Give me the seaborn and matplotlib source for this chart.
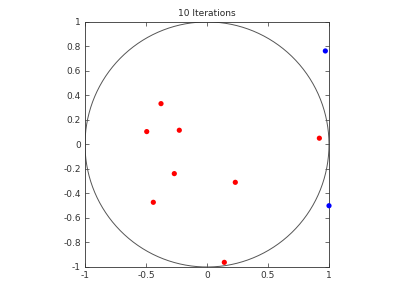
import numpy as np
import pandas as pd
import matplotlib
matplotlib.use("Agg")
import matplotlib.pyplot as plt
import seaborn as sns

sns.set_style("white")
plt.rcParams['font.family'] = ['DejaVu Sans']

title = "10 Iterations"
red_x = [-0.377, -0.494, -0.227, -0.268, 0.232, -0.44, 0.142, 0.921]
red_y = [0.333, 0.105, 0.116, -0.238, -0.309, -0.472, -0.962, 0.051]
blue_x = [0.970, 1.0]
blue_y = [0.763, -0.50]
x_ticks = [-1, -0.5, 0, 0.5, 1]
y_ticks = [-1, -0.8, -0.6, -0.4, -0.2, 0, 0.2, 0.4, 0.6, 0.8, 1]

df = pd.DataFrame({
    "x": red_x + blue_x,
    "y": red_y + blue_y,
    "group": ["inside"] * len(red_x) + ["outside"] * len(blue_x),
})

fig = plt.figure(figsize=(4, 3), dpi=100)
ax = fig.add_axes([0.2125, 0.11, 0.61, 0.817])

theta = np.linspace(0, 2 * np.pi, 400)
circ = pd.DataFrame({"cx": np.cos(theta), "cy": np.sin(theta)})
ax.plot(circ["cx"], circ["cy"], color="#555555", lw=0.7)

sns.scatterplot(data=df, x="x", y="y", hue="group",
                palette={"inside": "#ff0000", "outside": "#0000ff"},
                s=14, edgecolor="none", legend=False, ax=ax, clip_on=False, zorder=3)

ax.set_xlim(-1, 1)
ax.set_ylim(-1, 1)
ax.set_xticks(x_ticks)
ax.set_xticklabels(["-1", "-0.5", "0", "0.5", "1"])
ax.set_yticks(y_ticks)
ax.set_yticklabels(["-1", "-0.8", "-0.6", "-0.4", "-0.2", "0", "0.2", "0.4", "0.6", "0.8", "1"])
ax.set_xlabel("")
ax.set_ylabel("")
ax.set_title(title, fontsize=6.5, pad=4)
ax.tick_params(direction="in", length=3, width=0.5, labelsize=6.5, top=True, right=True,
               bottom=True, left=True, labeltop=False, labelright=False, colors="#333333",
               pad=3)
for sp in ax.spines.values():
    sp.set_visible(True)
    sp.set_linewidth(0.6)
    sp.set_color("#333333")

fig.savefig("out.png", dpi=100, facecolor="white")
